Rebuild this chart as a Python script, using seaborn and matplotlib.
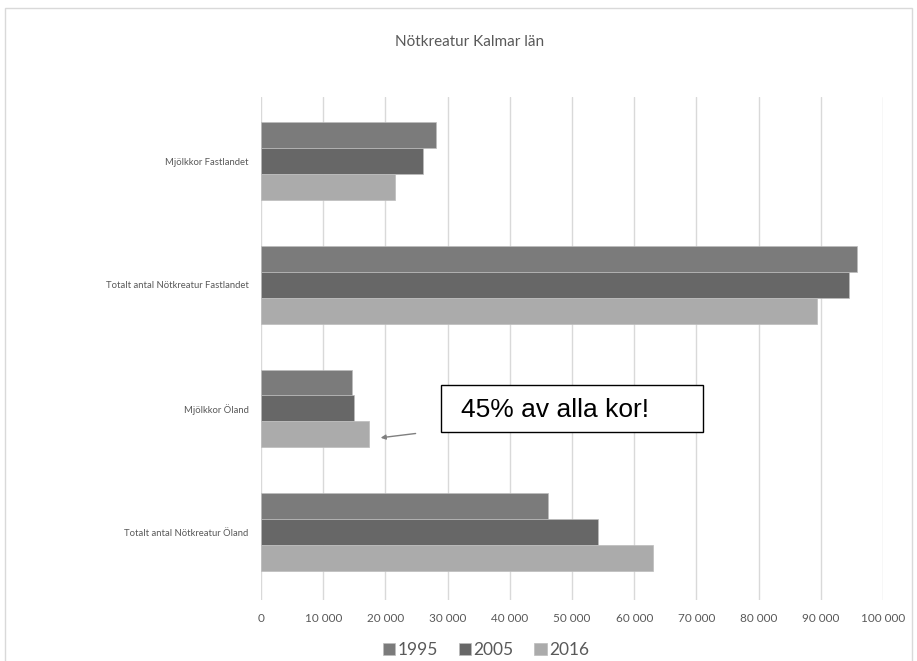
import pandas as pd
import seaborn as sns
import matplotlib.pyplot as plt
import matplotlib.patches as mpatches
from matplotlib.ticker import FuncFormatter

# data
categories = ['Mjölkkor Fastlandet', 'Totalt antal Nötkreatur Fastlandet',
              'Mjölkkor Öland', 'Totalt antal Nötkreatur Öland']
years = ['1995', '2005', '2016']
values_1995 = [28100, 95900, 14700, 46200]
values_2005 = [26000, 94600, 14900, 54100]
values_2016 = [21500, 89400, 17400, 63100]
colors = ['#7b7b7b', '#676767', '#ababab']
x_ticks = list(range(0, 100001, 10000))

rows = []
for year, vals in zip(years, [values_1995, values_2005, values_2016]):
    for cat, v in zip(categories, vals):
        rows.append({'Kategori': cat, 'År': year, 'Antal': v})
df = pd.DataFrame(rows)

sns.set_style('white')
plt.rcParams['font.family'] = ['Lato', 'DejaVu Sans']

fig = plt.figure(figsize=(9.17, 6.61), dpi=100)
ax = fig.add_axes([261 / 917, 1 - 600 / 661, 622 / 917, 503 / 661])

sns.barplot(data=df, y='Kategori', x='Antal', hue='År', order=categories,
            hue_order=years, palette=colors, orient='h', width=0.63,
            edgecolor='#bdbdbd', linewidth=0.5, ax=ax, zorder=3)

ax.set_xlim(0, 100000)
ax.set_ylim(3.55, -0.52)
ax.set_xticks(x_ticks)
ax.xaxis.set_major_formatter(FuncFormatter(lambda v, p: f'{int(v):,}'.replace(',', ' ')))
ax.grid(axis='x', color='#d9d9d9', linewidth=1, zorder=0)
ax.grid(axis='y', visible=False)
for s in ax.spines.values():
    s.set_visible(False)
ax.set_xlabel('')
ax.set_ylabel('')
ax.tick_params(axis='x', labelsize=8.5, labelcolor='#595959', length=0, pad=9)
ax.tick_params(axis='y', labelsize=6.8, labelcolor='#595959', length=0, pad=9)

ax.legend(loc='upper center', bbox_to_anchor=((486 - 261) / 622, -0.052), ncol=3,
          frameon=False, fontsize=12.5, handlelength=0.7, handleheight=0.7,
          handletextpad=0.15, columnspacing=1.2, labelcolor='#595959')

fig.text(470 / 917, 1 - 42 / 661, 'Nötkreatur Kalmar län', ha='center', va='center',
         fontsize=11, color='#595959')

# annotation box and arrow
box = mpatches.Rectangle((441 / 917, 1 - 432 / 661), 262 / 917, 47 / 661,
                         transform=fig.transFigure, facecolor='white',
                         edgecolor='black', linewidth=1, zorder=5)
fig.patches.append(box)
fig.text(461 / 917, 1 - 410 / 661, '45% av alla kor!', ha='left', va='center',
         fontsize=19, family='Liberation Sans', color='black', zorder=6)
ax.annotate('', xy=(18800, 2.24), xytext=(25300, 2.20),
            arrowprops=dict(arrowstyle='-|>', color='#7f7f7f', lw=1,
                            mutation_scale=7))

# outer chart border
fig.patches.append(mpatches.Rectangle((5 / 917, -0.01), 907 / 917, 1 - 8 / 661 + 0.01,
                                      transform=fig.transFigure, fill=False,
                                      edgecolor='#d9d9d9', linewidth=1))

fig.savefig('out.png', dpi=100)
